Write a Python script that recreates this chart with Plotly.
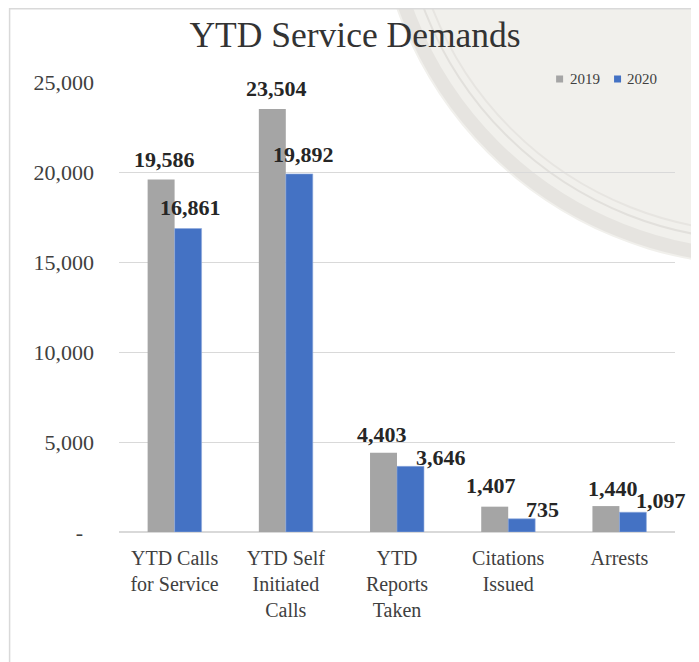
import plotly.graph_objects as go

categories = ["YTD Calls<br>for Service", "YTD Self<br>Initiated<br>Calls", "YTD<br>Reports<br>Taken", "Citations<br>Issued", "Arrests"]
values_2019 = [19586, 23504, 4403, 1407, 1440]
values_2020 = [16861, 19892, 3646, 735, 1097]
series_names = ["2019", "2020"]
y_tickvals = [0, 5000, 10000, 15000, 20000, 25000]
y_ticktext = ["-\u00a0\u00a0", "5,000", "10,000", "15,000", "20,000", "25,000"]

# label nudges (pixels: dx from bar centre, dy above bar top) as placed in the original
label_nudge_2019 = [(3, 20), (4, 20), (-2, 18), (-4, 21), (7, 18)]
label_nudge_2020 = [(2, 21), (4, 19), (31, 9), (21, 9), (28, 12)]

OFF = 8                      # page body margin
FW, FH = 699 - OFF, 662 - OFF
# plot area in page pixels
PX0, PX1, PY0, PY1 = 118.5, 675, 82, 532
ML, MR = PX0 - OFF, FW - (PX1 - OFF)
MT, MB = PY0 - OFF, FH - (PY1 - OFF)
PW, PH = PX1 - PX0, PY1 - PY0
BARGAP = 0.515
SERIF = "Liberation Serif, Times New Roman, serif"
GRAY = "#A5A5A5"
BLUE = "#4472C4"
TXT = "#404040"


def pxx(px):  # page x pixel -> paper
    return (px - PX0) / PW


def pxy(py):  # page y pixel -> paper
    return (PY1 - py) / PH


fig = go.Figure()
fig.add_trace(go.Bar(x=categories, y=values_2019, name=series_names[0], marker_color=GRAY,
                     marker_line_width=0))
fig.add_trace(go.Bar(x=categories, y=values_2020, name=series_names[1], marker_color=BLUE,
                     marker_line_color="#8EA9DB", marker_line_width=0.6))

bar_px = PW / len(categories) * (1 - BARGAP) / 2
for vals, nudges, side in ((values_2019, label_nudge_2019, -1), (values_2020, label_nudge_2020, 1)):
    for c, v, (dx, dy) in zip(categories, vals, nudges):
        fig.add_annotation(x=c, y=v, xref="x", yref="y", text=f"{v:,}", showarrow=False,
                           xshift=side * bar_px / 2 + dx, yshift=dy, yanchor="middle",
                           font=dict(family=SERIF, size=22, color="#262626", weight="bold"))

# faint badge watermark (background decoration)
cx, cy, R = 760, -120, 386
for r, fill, line, lw in ((R, "#F1F0EC", "rgba(0,0,0,0)", 0),
                          (R - 9, "rgba(0,0,0,0)", "#E6E4E0", 14),
                          (R - 26, "rgba(0,0,0,0)", "#E2E0DC", 2),
                          (R - 34, "rgba(0,0,0,0)", "#E7E5E1", 2)):
    fig.add_shape(type="circle", xref="paper", yref="paper", layer="below",
                  x0=pxx(cx - r), x1=pxx(cx + r), y0=pxy(cy + r), y1=pxy(cy - r),
                  fillcolor=fill, line=dict(color=line, width=lw))

# chart-area border
fig.add_shape(type="rect", xref="paper", yref="paper", layer="above",
              x0=pxx(9), x1=pxx(760), y0=pxy(760), y1=pxy(OFF + 0.8),
              line=dict(color="#D9D9D9", width=1.5), fillcolor="rgba(0,0,0,0)")

# legend (drawn manually to match the compact original spacing)
legend_items = [(series_names[0], GRAY, 556, 570), (series_names[1], BLUE, 614, 627)]
for name, col, sq_x, tx in legend_items:
    fig.add_shape(type="rect", xref="paper", yref="paper", layer="above",
                  x0=pxx(sq_x), x1=pxx(sq_x + 7), y0=pxy(82.5), y1=pxy(75.5),
                  fillcolor=col, line=dict(width=0))
    fig.add_annotation(x=pxx(tx), y=pxy(79), xref="paper", yref="paper", text=name,
                       showarrow=False, xanchor="left", yanchor="middle", borderpad=0,
                       xshift=-1, font=dict(family=SERIF, size=15, color=TXT))

fig.update_layout(
    width=FW, height=FH,
    margin=dict(l=ML, r=MR, t=MT, b=MB),
    paper_bgcolor="white", plot_bgcolor="rgba(0,0,0,0)",
    barmode="group", bargap=BARGAP, bargroupgap=0,
    title=dict(text="YTD Service Demands", x=(355 - OFF) / FW, xanchor="center",
               y=1 - (34.5 - OFF) / FH, yanchor="middle", yref="container",
               font=dict(family=SERIF, size=35.5, color="#333333")),
    showlegend=False,
)
fig.update_yaxes(range=[0, 25000], autorange=False, tickvals=y_tickvals, ticktext=y_ticktext,
                 showgrid=True, gridcolor="#D9D9D9", gridwidth=1.2,
                 zeroline=True, zerolinecolor="#D9D9D9", zerolinewidth=1.5,
                 showline=False, ticks="", ticklabelstandoff=24,
                 tickfont=dict(family=SERIF, size=22, color=TXT), fixedrange=True)
fig.update_xaxes(range=[-0.5, len(categories) - 0.5], autorange=False,
                 showline=False, ticks="", ticklabelstandoff=12, tickangle=0,
                 tickfont=dict(family=SERIF, size=20, color=TXT), fixedrange=True)

fig.write_html("out.html")
